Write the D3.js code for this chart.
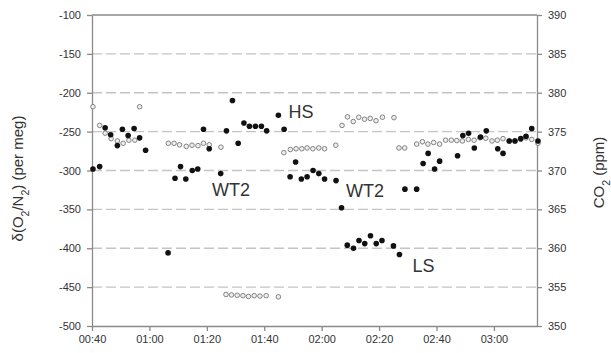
<!DOCTYPE html>
<html>
<head>
<meta charset="utf-8">
<script src="https://cdn.jsdelivr.net/npm/d3@7"></script>
<style>
  body { margin: 0; background: #fff; }
  text { font-family: "Liberation Sans", Arial, sans-serif; }
</style>
</head>
<body>
<svg id="chart" width="611" height="353"></svg>
<script>
// δ(O2/N2) in per meg, filled dots, left axis
const o2Times = ["00:40:20","00:42:40","00:44:35","00:46:30","00:48:50","00:50:35","00:52:35","00:54:40","00:56:35","00:58:40",
  "01:06:30","01:08:55","01:10:50","01:12:40","01:14:55","01:16:50","01:18:50","01:20:50","01:24:50","01:26:50",
  "01:28:55","01:30:55","01:32:55","01:34:50","01:36:55","01:39:00","01:40:50","01:44:55","01:46:55","01:49:00",
  "01:50:55","01:52:55","01:54:55","01:57:00","01:59:00","02:01:00","02:05:00","02:06:55","02:08:55","02:11:05",
  "02:13:00","02:15:00","02:17:00","02:19:00","02:21:00","02:25:00","02:27:05","02:29:00","02:33:05","02:35:20",
  "02:37:05","02:39:20","02:41:05","02:47:20","02:49:10","02:51:10","02:53:10","02:55:20","02:57:20","03:01:20",
  "03:03:10","03:05:20","03:07:20","03:09:20","03:11:10","03:13:10","03:15:20"];
const o2Values = [-298,-295,-245,-254,-268,-247,-255,-246,-258,-274,
  -406,-310,-295,-311,-300,-298,-247,-272,-304,-249,
  -210,-265,-239,-243,-243,-243,-249,-229,-247,-308,
  -289,-311,-308,-300,-304,-311,-313,-348,-396,-400,
  -390,-394,-384,-394,-390,-397,-408,-324,-324,-291,
  -278,-298,-288,-281,-255,-252,-271,-257,-249,-272,
  -278,-262,-262,-259,-256,-246,-262];

// CO2 in ppm, open circles, right axis
const co2Times = ["00:40:20","00:42:40","00:44:35","00:46:40","00:48:50","00:50:50","00:52:50","00:54:55","00:56:35",
  "01:06:35","01:08:35","01:10:30","01:12:50","01:14:50","01:16:55","01:18:50","01:20:50","01:24:55",
  "01:26:40","01:28:35","01:30:35","01:32:35","01:34:30","01:36:30","01:38:30","01:40:40","01:44:55",
  "01:46:50","01:49:05","01:51:05","01:53:05","01:54:55","01:56:55","01:59:00","02:01:00","02:04:55",
  "02:07:05","02:09:00","02:11:00","02:12:55","02:14:55","02:16:55","02:18:55","02:21:10","02:25:10",
  "02:26:55","02:28:55","02:33:05","02:35:05","02:37:00","02:39:00","02:41:05","02:43:10","02:45:10",
  "02:47:05","02:49:00","02:51:05","02:53:05","02:55:05","02:57:10","02:59:20","03:01:10","03:03:10",
  "03:05:20","03:07:20","03:09:20","03:11:10","03:13:10","03:15:20"];
const co2Values = [378.2,375.8,374.8,374.1,373.8,373.5,373.9,373.9,378.2,
  373.5,373.5,373.3,373.1,373.25,373.2,373.5,373.3,373.0,
  354.05,354.0,353.95,353.9,353.8,353.9,353.85,353.9,353.75,
  372.3,372.7,372.8,372.8,372.9,372.8,372.9,372.8,373.25,
  375.8,376.9,376.3,376.85,376.6,376.7,376.4,376.85,376.8,
  372.9,372.9,373.4,373.7,373.4,373.6,373.4,373.9,373.9,
  373.85,373.8,374.0,373.9,374.2,374.15,373.8,373.9,374.1,
  373.8,373.85,374.0,374.2,374.0,373.5];

const o2Ticks = [-500,-450,-400,-350,-300,-250,-200,-150,-100];
const co2Ticks = [350,355,360,365,370,375,380,385,390];
const timeDomain = ["00:40:00","03:15:00"];

const notes = [
  { label: "HS", time: "01:48:25", value: -232 },
  { label: "WT2", time: "01:21:50", value: -333 },
  { label: "WT2", time: "02:08:30", value: -334 },
  { label: "LS", time: "02:31:40", value: -431 }
];

const parse = d3.timeParse("%H:%M:%S");
const svg = d3.select("#chart");
const m = { left: 92, right: 537, top: 15, bottom: 326 };

const x = d3.scaleTime().domain(timeDomain.map(parse)).range([m.left, m.right]);
const y = d3.scaleLinear().domain([-500, -100]).range([m.bottom, m.top]);
const yCo2 = d3.scaleLinear().domain([350, 390]).range([m.bottom, m.top]);

const axisColor = "#8a8a8a";
const textColor = "#333";

// dashed grid
svg.append("g")
  .selectAll("line")
  .data(o2Ticks.slice(1, -1))
  .join("line")
  .attr("x1", m.left).attr("x2", m.right)
  .attr("y1", d => y(d)).attr("y2", d => y(d))
  .attr("stroke", "#c4c4c4")
  .attr("stroke-width", 1.4)
  .attr("stroke-dasharray", "10,4");

// top border
svg.append("line")
  .attr("x1", m.left).attr("x2", m.right)
  .attr("y1", m.top).attr("y2", m.top)
  .attr("stroke", axisColor).attr("stroke-width", 1.3);

const styleAxis = g => {
  g.select(".domain").attr("stroke", axisColor).attr("stroke-width", 1.3);
  g.selectAll(".tick line").attr("stroke", axisColor).attr("stroke-width", 1.3);
  g.selectAll(".tick text").attr("fill", textColor)
    .style("font-family", '"Liberation Sans", Arial, sans-serif')
    .style("font-size", "11px");
};

svg.append("g")
  .attr("transform", `translate(${m.left},0)`)
  .call(d3.axisLeft(y).tickValues(o2Ticks).tickFormat(d => String(d))
    .tickSize(5).tickSizeOuter(0).tickPadding(6))
  .call(styleAxis);

svg.append("g")
  .attr("transform", `translate(${m.right},0)`)
  .call(d3.axisRight(yCo2).tickValues(co2Ticks).tickFormat(d => String(d))
    .tickSize(5).tickSizeOuter(0).tickPadding(6))
  .call(styleAxis);

svg.append("g")
  .attr("transform", `translate(0,${m.bottom})`)
  .call(d3.axisBottom(x).ticks(d3.timeMinute.every(20)).tickFormat(d3.timeFormat("%H:%M"))
    .tickSize(5).tickSizeOuter(0).tickPadding(4))
  .call(styleAxis);

// CO2 points
svg.append("g")
  .selectAll("circle")
  .data(co2Times.map((t, i) => ({ t: parse(t), v: co2Values[i] })))
  .join("circle")
  .attr("cx", d => x(d.t))
  .attr("cy", d => yCo2(d.v))
  .attr("r", 2.3)
  .attr("fill", "#eee")
  .attr("stroke", "#777")
  .attr("stroke-width", 0.9);

// O2/N2 points
svg.append("g")
  .selectAll("circle")
  .data(o2Times.map((t, i) => ({ t: parse(t), v: o2Values[i] })))
  .join("circle")
  .attr("cx", d => x(d.t))
  .attr("cy", d => y(d.v))
  .attr("r", 2.8)
  .attr("fill", "#111");

// event labels
svg.append("g")
  .selectAll("text")
  .data(notes)
  .join("text")
  .attr("x", d => x(parse(d.time)))
  .attr("y", d => y(d.value))
  .attr("fill", textColor)
  .style("font-size", "18px")
  .text(d => d.label);

// axis titles
const leftTitle = svg.append("text")
  .attr("transform", `translate(23,${(m.top + m.bottom) / 2 + 8}) rotate(-90)`)
  .attr("text-anchor", "middle")
  .attr("fill", textColor)
  .style("font-size", "15px");
leftTitle.append("tspan").text("δ(O");
leftTitle.append("tspan").attr("baseline-shift", "sub").style("font-size", "10.5px").text("2");
leftTitle.append("tspan").text("/N");
leftTitle.append("tspan").attr("baseline-shift", "sub").style("font-size", "10.5px").text("2");
leftTitle.append("tspan").text(") (per meg)");

const rightTitle = svg.append("text")
  .attr("transform", `translate(604,${(m.top + m.bottom) / 2 + 2}) rotate(-90)`)
  .attr("text-anchor", "middle")
  .attr("fill", textColor)
  .style("font-size", "15px");
rightTitle.append("tspan").text("CO");
rightTitle.append("tspan").attr("baseline-shift", "sub").style("font-size", "10.5px").text("2");
rightTitle.append("tspan").text(" (ppm)");
</script>
</body>
</html>
